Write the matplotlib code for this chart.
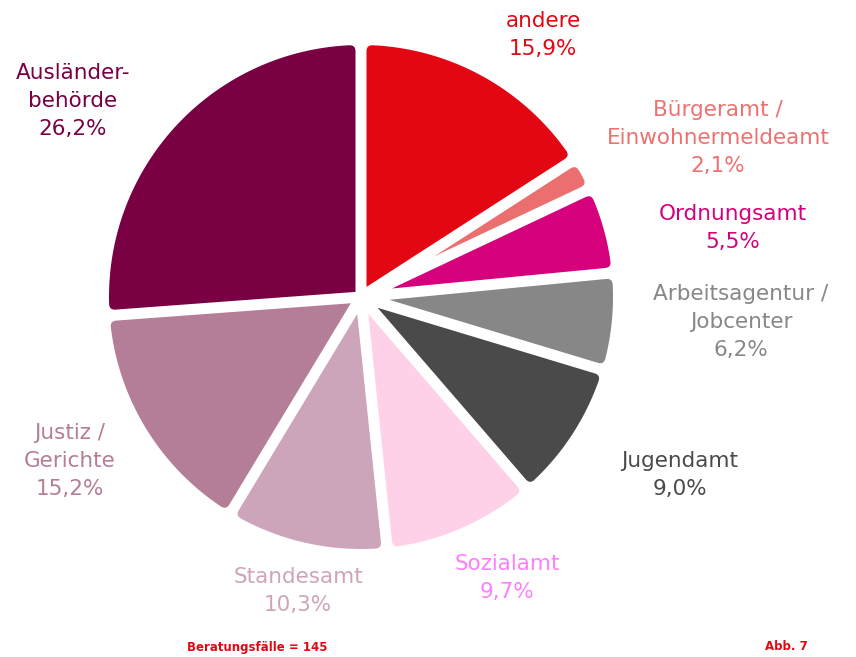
import matplotlib
matplotlib.use("Agg")
import matplotlib.pyplot as plt
import numpy as np
from matplotlib.path import Path
from matplotlib.patches import PathPatch

# data
labels = ["andere", "Bürgeramt /\nEinwohnermeldeamt", "Ordnungsamt",
          "Arbeitsagentur /\nJobcenter", "Jugendamt", "Sozialamt",
          "Standesamt", "Justiz /\nGerichte", "Ausländer-\nbehörde"]
shares = [15.9, 2.1, 5.5, 6.2, 9.0, 9.7, 10.3, 15.2, 26.2]
n_cases = 145
fig_no = 7

# styles
wedge_colors = ["#E30613", "#EC6F6F", "#D6007D", "#878787", "#4A4A4A",
                "#FFD1E8", "#CDA5BA", "#B47D98", "#780043"]
text_colors = ["#E30613", "#EE7070", "#D6007D", "#878787", "#4A4A4A",
               "#FF7FFF", "#CDA5BA", "#B47D98", "#780043"]
# label centres in pixels of the 856x657 picture
label_px = [(543, 35), (718, 138), (733, 228), (741, 322), (680, 475),
            (507, 578), (298, 591), (70, 461), (73, 101)]

W, H = 856, 657
cx, cy, R = 361, 297, 252
gap_px = 11     # white gap between slices
round_px = 6    # size of the rounded outer corners


def to_data(px, py):
    return (px - cx) / R, (cy - py) / R


def rounded_slice(t1, t2, color):
    # slice with parallel gaps and rounded outer corners
    g = gap_px / 2 / R
    c = round_px / R
    a1, a2 = np.radians(t1), np.radians(t2)
    half = (a2 - a1) / 2
    mid = (a1 + a2) / 2
    s = g / np.sin(half)
    apex = np.array([s * np.cos(mid), s * np.sin(mid)])
    d = np.arcsin(g)
    k1 = np.array([np.cos(a1 + d), np.sin(a1 + d)])
    k2 = np.array([np.cos(a2 - d), np.sin(a2 - d)])
    u1 = (apex - k1) / np.linalg.norm(apex - k1)
    u2 = (apex - k2) / np.linalg.norm(apex - k2)
    arc = np.linspace(a1 + d + c, a2 - d - c, 100)
    verts = [apex, k1 + c * u1, k1]
    codes = [Path.MOVETO, Path.LINETO, Path.CURVE3]
    arc_pts = [np.array([np.cos(a), np.sin(a)]) for a in arc]
    verts.append(arc_pts[0])
    codes.append(Path.CURVE3)
    verts += arc_pts[1:]
    codes += [Path.LINETO] * (len(arc_pts) - 1)
    verts += [k2, k2 + c * u2, apex, apex]
    codes += [Path.CURVE3, Path.CURVE3, Path.LINETO, Path.CLOSEPOLY]
    return PathPatch(Path(verts, codes), facecolor=color, edgecolor="none")


fig = plt.figure(figsize=(W / 100, H / 100), dpi=100)
ax = fig.add_axes([0, 0, 1, 1])

wedges, _ = ax.pie(shares, colors=wedge_colors, startangle=90,
                   counterclock=False, radius=1, center=(0, 0), frame=True)
for w, col in zip(wedges, wedge_colors):
    w.set_visible(False)
    ax.add_patch(rounded_slice(w.theta1, w.theta2, col))

ax.set_xlim(-cx / R, (W - cx) / R)
ax.set_ylim(-(H - cy) / R, cy / R)
ax.axis("off")

for lab, val, col, (px, py) in zip(labels, shares, text_colors, label_px):
    txt = lab + "\n" + f"{val:.1f}%".replace(".", ",")
    x, y = to_data(px, py)
    ax.text(x, y, txt, color=col, fontsize=15.5, ha="center", va="center",
            linespacing=1.5, family="DejaVu Sans")

x, y = to_data(257, 647)
ax.text(x, y, f"Beratungsfälle = {n_cases}", color="#E30613", fontsize=8.5,
        fontweight="bold", ha="center", va="center")
x, y = to_data(786, 647)
ax.text(x, y, f"Abb. {fig_no}", color="#E30613", fontsize=8.5,
        fontweight="bold", ha="center", va="center")

fig.savefig("out.png", dpi=100)
